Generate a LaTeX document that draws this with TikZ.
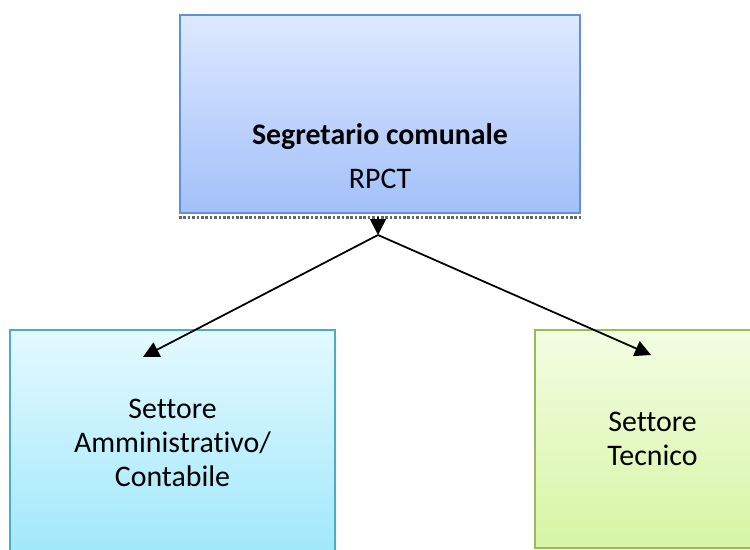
\documentclass[tikz,border=0pt]{standalone}
\usepackage{fontspec}
\setmainfont{Carlito}[Ligatures=NoCommon]
\usetikzlibrary{arrows.meta}

\definecolor{rpctTop}{RGB}{222,233,255}
\definecolor{rpctBottom}{RGB}{162,192,250}
\definecolor{rpctLine}{RGB}{95,145,215}
\definecolor{adminTop}{RGB}{228,249,255}
\definecolor{adminBottom}{RGB}{160,232,251}
\definecolor{adminLine}{RGB}{75,172,198}
\definecolor{tecTop}{RGB}{243,253,227}
\definecolor{tecBottom}{RGB}{214,245,164}
\definecolor{tecLine}{RGB}{155,187,89}

\tikzset{
  box/.style={draw, line width=1.2pt, inner sep=0pt, align=center,
    font=\fontsize{17}{19.5}\selectfont},
  lbl/.style={inner sep=0pt, align=center, font=\fontsize{17}{19.5}\selectfont},
  link/.style={-{Triangle[length=0.32cm,width=0.32cm]}, line width=1pt},
  shadowline/.style={densely dotted, line width=1.5pt, black!60},
}

\begin{document}
\begin{tikzpicture}[x=0.02cm,y=-0.02cm]
\clip (0,0) rectangle (750,550);
\fill[white] (0,0) rectangle (750,550);
\node[box, draw=rpctLine, top color=rpctTop, bottom color=rpctBottom,
  minimum width=8cm, minimum height=3.96cm] (rpct) at (380,114) {};
\node[lbl] (rpctTxt) at (380,156) {\textbf{Segretario comunale}\\[5.5pt]RPCT};
\draw[shadowline] ([yshift=-2pt]rpct.south west) -- ([yshift=-2pt]rpct.south east);
\node[box, draw=adminLine, top color=adminTop, bottom color=adminBottom,
  minimum width=6.5cm, minimum height=4.52cm] (admin) at (172.5,443)
  {Settore\\Amministrativo/\\Contabile};
\node[box, draw=tecLine, top color=tecTop, bottom color=tecBottom,
  minimum width=4.7cm, minimum height=4.36cm] (tec) at (652.5,439)
  {Settore\\Tecnico};
\draw[shadowline] ([yshift=-1.5pt]tec.south west) -- ([yshift=-1.5pt]tec.south east);
\coordinate (forkIn) at (378,217);
\coordinate (fork) at (378,235);
\coordinate (adminIn) at (143,357);
\coordinate (tecIn) at (651,355);
\draw[link] (forkIn) -- (fork);
\draw[link] (fork) -- (adminIn);
\draw[link] (fork) -- (tecIn);
\end{tikzpicture}
\end{document}
